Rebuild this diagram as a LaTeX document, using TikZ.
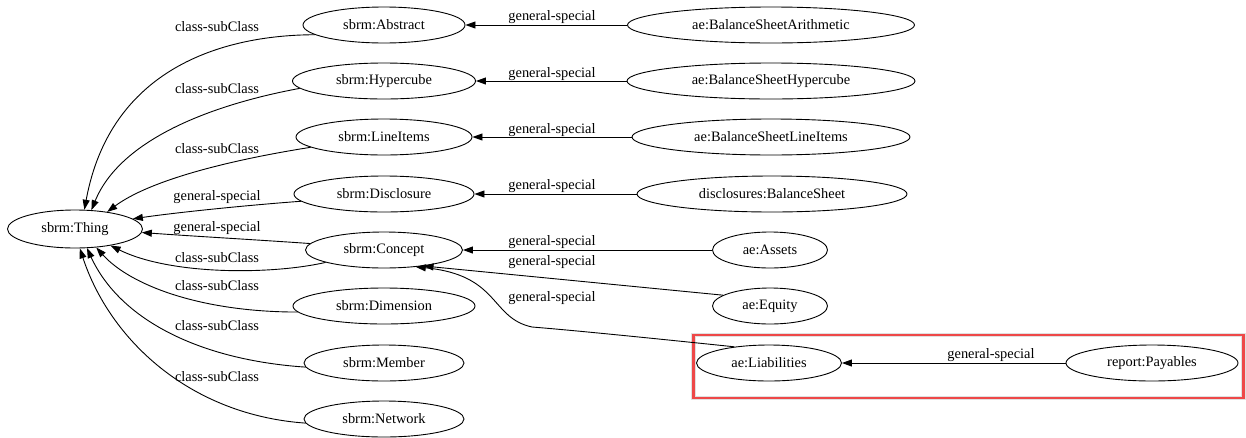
\documentclass[tikz,border=0pt]{standalone}
\usepackage{fontspec}
\setmainfont{Liberation Serif}
\usetikzlibrary{shapes.geometric,arrows.meta}
\begin{document}
\begin{tikzpicture}[x=1pt,y=-1pt,
  every node/.style={font=\fontsize{14.4}{16}\selectfont},
  ell/.style={ellipse,draw,line width=0.9pt,inner sep=0pt,minimum height=36pt},
  lbl/.style={inner sep=0pt,anchor=center},
  edge/.style={line width=0.9pt,-{Triangle[length=10pt,width=7pt]}},
  redbox/.style={draw={rgb,255:red,238;green,72;blue,72},line width=2.6pt}]
\useasboundingbox (0,0) rectangle (1246,437);
% halo and red box
\draw[black!12,line width=4.5pt] (693.5,335) rectangle (1243.5,398);
\node[redbox,inner sep=0pt,minimum width=550pt,minimum height=63pt] (box) at (968.5,366.5) {};
% left nodes
\node[ell,minimum width=135pt,minimum height=38pt] (thing) at (75,229) {sbrm:Thing};
\node[ell,minimum width=162pt] (abs) at (384,25) {sbrm:Abstract};
\node[ell,minimum width=183pt] (hyp) at (384,81) {sbrm:Hypercube};
\node[ell,minimum width=176pt] (li) at (384,137) {sbrm:LineItems};
\node[ell,minimum width=180pt] (dis) at (384,194) {sbrm:Disclosure};
\node[ell,minimum width=157pt] (con) at (384,250) {sbrm:Concept};
\node[ell,minimum width=182pt] (dim) at (384,306) {sbrm:Dimension};
\node[ell,minimum width=160pt] (mem) at (384,363) {sbrm:Member};
\node[ell,minimum width=160pt] (net) at (384,419) {sbrm:Network};
% right nodes
\node[ell,minimum width=287pt] (bsa) at (771,25) {ae:BalanceSheetArithmetic};
\node[ell,minimum width=288pt] (bsh) at (771,81) {ae:BalanceSheetHypercube};
\node[ell,minimum width=278pt] (bsl) at (771,137) {ae:BalanceSheetLineItems};
\node[ell,minimum width=270pt] (bsd) at (772,194) {disclosures:BalanceSheet};
\node[ell,minimum width=115pt] (ast) at (770,250) {ae:Assets};
\node[ell,minimum width=115pt] (eq) at (770,306) {ae:Equity};
\node[ell,minimum width=145pt] (lia) at (769,363) {ae:Liabilities};
\node[ell,minimum width=172pt] (pay) at (1152,363) {report:Payables};
% edges to Thing
\draw[edge] (abs.188) .. controls (220,35) and (110,70) .. (thing.64);
\draw[edge] (hyp.185) .. controls (210,105) and (120,140) .. (thing.49);
\draw[edge] (li.188) .. controls (230,160) and (150,180) .. (thing.28);
\draw[edge] (dis.185) .. controls (250,205) and (180,212) .. (thing.10);
\draw[edge] (con.175) .. controls (260,240) and (190,236) .. (thing.-3);
\draw[edge] (con.192) .. controls (270,275) and (170,275) .. (thing.-25);
\draw[edge] (dim.184) .. controls (200,312) and (130,285) .. (thing.-41);
\draw[edge] (mem.183) .. controls (200,360) and (120,320) .. (thing.-58);
\draw[edge] (net.183) .. controls (190,415) and (110,340) .. (thing.-76);
% right edges
\draw[edge] (bsa) -- (abs);
\draw[edge] (bsh) -- (hyp);
\draw[edge] (bsl) -- (li);
\draw[edge] (bsd) -- (dis);
\draw[edge] (ast) -- (con);
\draw[edge] (eq.167) -- (con.-22);
\coordinate (bend) at (532,327);
\draw[edge] (lia.155) .. controls (650,338) and (570,330) .. (bend) .. controls (490,318) and (500,275) .. (con.-28);
\draw[edge] (pay) -- (lia);
% labels
\node[lbl] (l1) at (217,27) {class-subClass};
\node[lbl] (l2) at (217,89) {class-subClass};
\node[lbl] (l3) at (217,149) {class-subClass};
\node[lbl] (l4) at (217,197) {general-special};
\node[lbl] (l5) at (217,228) {general-special};
\node[lbl] (l6) at (217,258) {class-subClass};
\node[lbl] (l7) at (217,286) {class-subClass};
\node[lbl] (l8) at (217,326) {class-subClass};
\node[lbl] (l9) at (217,377) {class-subClass};
\node[lbl] (r1) at (552,17) {general-special};
\node[lbl] (r2) at (552,74) {general-special};
\node[lbl] (r3) at (552,130) {general-special};
\node[lbl] (r4) at (552,186) {general-special};
\node[lbl] (r5) at (552,242) {general-special};
\node[lbl] (r6) at (552,262) {general-special};
\node[lbl] (r7) at (552,298) {general-special};
\node[lbl] (r8) at (991,355) {general-special};
\end{tikzpicture}
\end{document}
